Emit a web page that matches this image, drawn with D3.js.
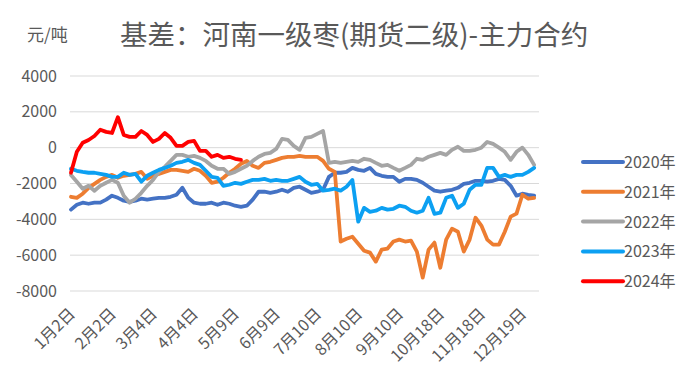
<!DOCTYPE html>
<html>
<head>
<meta charset="utf-8">
<script src="https://cdn.jsdelivr.net/npm/d3@7"></script>
<style>
  body { margin: 0; background: #fff; }
  svg text { font-family: "Noto Sans CJK SC", "Noto Sans", sans-serif; fill: #595959; }
</style>
</head>
<body>
<svg></svg>
<script>
// trading-day axis: 240 days, values sampled every 3rd day
const nDays = 240;
const step = 3;
const tickLabels = ["1月2日", "2月2日", "3月4日", "4月4日", "5月9日", "6月9日", "7月10日", "8月10日", "9月10日", "10月18日", "11月18日", "12月19日"];
const tickIndex = [0, 21, 42, 63, 84, 105, 126, 147, 168, 189, 210, 231];
const yTicks = [4000, 2000, 0, -2000, -4000, -6000, -8000];

const years = ["2020年", "2021年", "2022年", "2023年", "2024年"];
const colors = ["#4472C4", "#ED7D31", "#A5A5A5", "#0CA0F2", "#FF0000"];

const s2020 = [-3460, -3190, -3070, -3130, -3070, -3070, -2900, -2680, -2800, -2960,
    -3020, -2960, -2850, -2900, -2850, -2800, -2800, -2740, -2630, -2240,
    -2800, -3070, -3130, -3130, -3070, -3190, -3070, -3130, -3240, -3300,
    -3240, -2900, -2460, -2460, -2520, -2460, -2350, -2460, -2240, -2180,
    -2350, -2520, -2460, -2350, -1630, -1400, -1400, -1350, -1130, -1240,
    -1290, -1130, -1460, -1570, -1630, -1630, -1900, -1740, -1740, -1800,
    -1960, -2180, -2400, -2460, -2400, -2350, -2240, -2020, -1960, -1850,
    -1850, -1900, -1850, -1740, -1800, -2130, -2680, -2570, -2630, -2680];

const s2021 = [-2740, -2800, -2570, -2240, -2020, -1800, -1630, -1520, -1680, -1570,
    -1520, -1460, -1350, -1740, -1570, -1460, -1350, -1240, -1240, -1290,
    -1350, -1180, -1290, -1570, -1960, -1900, -1680, -1400, -1180, -900,
    -740, -1010, -1130, -850, -790, -680, -570, -510, -510, -460,
    -510, -510, -510, -740, -1180, -1350, -5240, -5080, -4970, -5360,
    -5750, -5860, -6360, -5690, -5630, -5240, -5130, -5240, -5190, -5800,
    -7250, -5690, -5300, -6700, -5130, -4520, -4690, -5800, -5130, -3910,
    -4350, -5130, -5410, -5410, -4690, -3850, -3680, -2630, -2850, -2800];

const s2022 = [-1520, -1900, -2290, -2130, -2400, -2130, -1960, -1800, -1960, -2680,
    -3070, -2850, -2520, -2130, -1800, -1350, -1070, -740, -400, -400,
    -510, -460, -570, -740, -1010, -1180, -1180, -1460, -1350, -1180,
    -1010, -740, -510, -350, -290, -70, 490, 430, 100, -120,
    550, 600, 770, 930, -850, -790, -850, -790, -740, -790,
    -620, -680, -850, -1010, -960, -1130, -1290, -1130, -960, -620,
    -680, -510, -400, -290, -400, -120, 50, -180, -180, -120,
    0, 320, 210, 0, -230, -680, -230, 0, -400, -960];

const s2023 = [-1180, -1290, -1350, -1400, -1400, -1460, -1520, -1630, -1630, -1400,
    -1520, -1460, -1900, -1570, -1400, -1240, -1130, -1010, -850, -790,
    -680, -850, -960, -1290, -1630, -1680, -2130, -2070, -1960, -2020,
    -1900, -1800, -1800, -1740, -1850, -1800, -1850, -1850, -1740, -1630,
    -1900, -2070, -2020, -2400, -2350, -2290, -2400, -2180, -1800, -4130,
    -3360, -3580, -3520, -3360, -3460, -3410, -3240, -3300, -3520, -3630,
    -3520, -2800, -3690, -3630, -2800, -2680, -3360, -3130, -2350, -2070,
    -2070, -1130, -1130, -1630, -1520, -1630, -1520, -1520, -1350, -1130];

const s2024 = [-1400, -230, 270, 430, 650, 1000, 880, 820, 1700, 710,
    600, 600, 930, 710, 320, 490, 820, 550, 100, 100,
    320, 380, -180, -180, -510, -400, -570, -510, -620, -680];

const allSeries = [s2020, s2021, s2022, s2023, s2024];

let svg = d3.select("svg").attr("width", 700).attr("height", 389);

const x = d3.scaleLinear().domain([0, nDays]).range([70, 539]);
const y = d3.scaleLinear().domain([-8000, 4000]).range([291, 76]);

// title and unit
svg.append("text")
    .attr("x", 27).attr("y", 41)
    .style("font-size", "17px")
    .text("元/吨");
svg.append("text")
    .attr("x", 120).attr("y", 45)
    .style("font-size", "27.5px")
    .text("基差：河南一级枣(期货二级)-主力合约");

// grid
svg.append("g")
    .selectAll("line")
    .data(yTicks)
    .join("line")
    .attr("x1", x(0)).attr("x2", x(nDays))
    .attr("y1", (d) => y(d)).attr("y2", (d) => y(d))
    .style("stroke", "#D9D9D9")
    .style("stroke-width", 1);

// y axis
let yAxis = svg.append("g")
    .attr("transform", `translate(${x(0)},0)`)
    .call(d3.axisLeft(y).tickValues(yTicks).tickSize(0).tickPadding(13).tickFormat((d) => String(d)));
yAxis.select(".domain").remove();
yAxis.selectAll("text").style("font-size", "16px").attr("fill", "#595959");

// x axis labels
svg.append("g")
    .selectAll("text")
    .data(tickIndex)
    .join("text")
    .attr("transform", (d) => `translate(${x(d + 0.5) + 5},${315}) rotate(-45)`)
    .attr("text-anchor", "end")
    .style("font-size", "16px")
    .text((d, i) => tickLabels[i]);

// lines
const line = d3.line()
    .x((d, i) => x(i * step + 0.5))
    .y((d) => y(d));

svg.append("g")
    .selectAll("path")
    .data(allSeries)
    .join("path")
    .attr("d", (d) => line(d))
    .style("fill", "none")
    .style("stroke", (d, i) => colors[i])
    .style("stroke-width", 3.8)
    .style("stroke-linejoin", "round")
    .style("stroke-linecap", "round");

// legend
let legend = svg.append("g")
    .selectAll("g")
    .data(years)
    .join("g")
    .attr("transform", (d, i) => `translate(583,${162 + i * 29.8})`);
legend.append("line")
    .attr("x1", 0).attr("x2", 40)
    .style("stroke", (d, i) => colors[i])
    .style("stroke-width", 4)
    .style("stroke-linecap", "round");
legend.append("text")
    .attr("x", 41).attr("y", 6)
    .style("font-size", "16px")
    .text((d) => d);
</script>
</body>
</html>
